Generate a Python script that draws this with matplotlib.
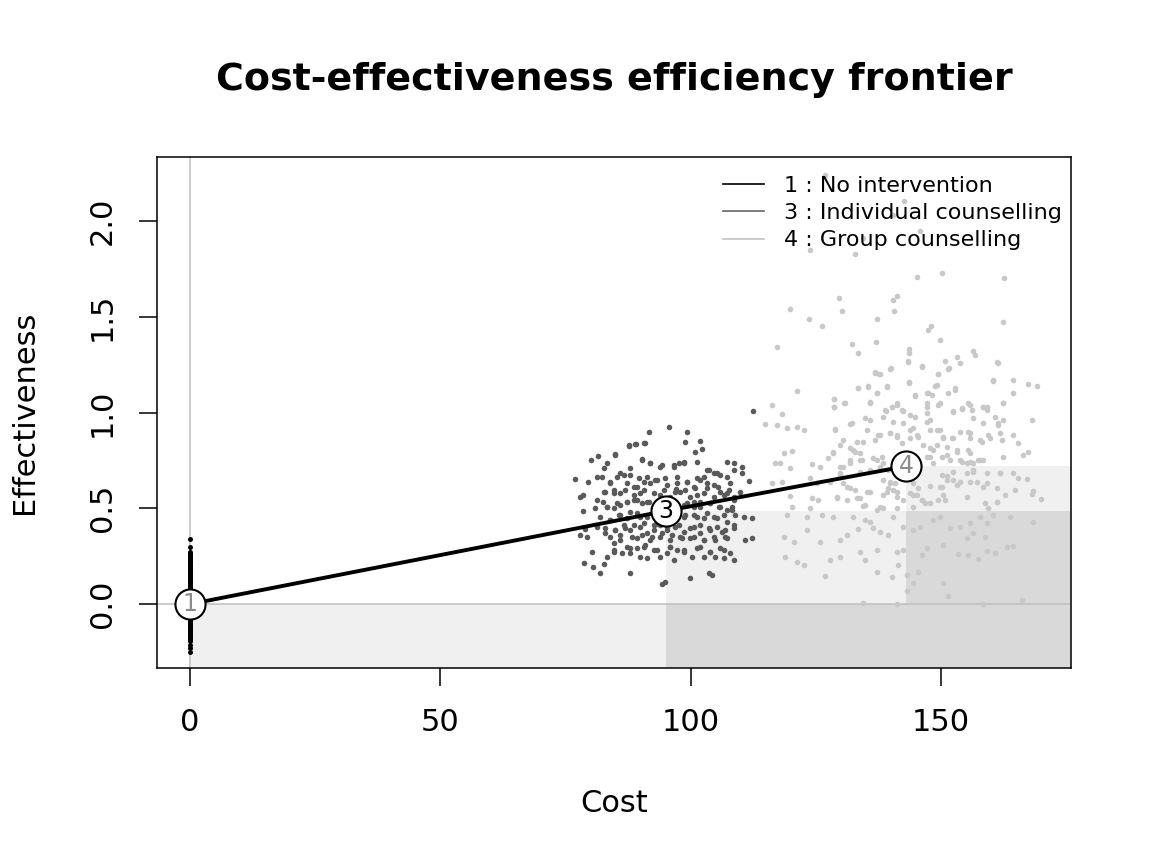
import matplotlib.pyplot as plt
from matplotlib.lines import Line2D
import numpy as np

# frontier (mean cost / mean effect of the efficient options)
labels = ['1', '3', '4']
names = ['No intervention', 'Individual counselling', 'Group counselling']
front_cost = [0.0, 95.0, 143.1]
front_eff = [0.0, 0.486, 0.72]

# simulations, option 1 (cost is always zero)
no_int_cost = 0.0
no_int_eff = [0.34, 0.30, 0.27, 0.262, 0.255, 0.247, 0.24, 0.233, 0.225, 0.218, 0.21,
              0.205, 0.197, 0.19, 0.184, 0.18, 0.172, 0.166, 0.16, 0.153, 0.148,
              0.14, 0.133, 0.127, 0.121, 0.115, 0.108, 0.101, 0.094, 0.088, 0.083,
              0.077, 0.071, 0.066, 0.062, 0.056, 0.05, 0.044, 0.041, 0.034, 0.028,
              0.023, 0.019, 0.012, 0.006, -0.003, -0.008, -0.012, -0.017, -0.024,
              -0.03, -0.036, -0.041, -0.047, -0.052, -0.059, -0.066, -0.07, -0.073,
              -0.081, -0.088, -0.092, -0.097, -0.104, -0.11, -0.114, -0.118, -0.125,
              -0.131, -0.137, -0.142, -0.149, -0.155, -0.16, -0.163, -0.172, -0.18,
              -0.187, -0.195, -0.212, -0.23, -0.25]

# simulations, option 3
ind_cost = [95.6, 91.6, 99.2, 87.6, 88.9, 90.9, 98.9, 101.9, 100.9, 102.2, 80.1, 81.6,
            84.9, 76.9, 79.5, 107.2, 108.6, 110.2, 111.6, 110.2, 107.9, 77.9, 78.6,
            78.6, 80.9, 82.5, 78.9, 77.9, 79.3, 80.3, 78.7, 80.6, 82.6, 81.9, 83.3,
            87.9, 94.2, 94.9, 99.9, 103.6, 104.2, 104.9, 106.6, 108.6, 110.6, 112.2,
            112.2, 110.9, 89.9, 91.2, 84.6, 86.2, 95.2, 98.6, 100.2, 112.4,
            90.2, 91.9, 93.9, 96.6, 97.6, 98.6, 103.6, 104.6, 105.9, 102.6, 86.6,
            87.9, 82.6, 81.3, 83.9, 85.2,
            87.2, 89.2, 90.6, 91.9, 93.2, 95.2, 97.2, 99.2, 100.6, 101.9, 103.2,
            104.6, 105.9, 107.2, 108.6, 109.9, 84.6, 85.9, 82.6, 81.3, 88.6, 89.9,
            93.9, 95.9, 97.9, 99.9, 101.2,
            83.3, 84.6, 85.9, 87.2, 88.6, 90.2, 91.6, 99.2, 100.6, 101.9, 103.9,
            105.6, 107.2, 108.2, 81.9, 83.9, 85.6, 87.2, 89.2, 91.2, 93.2, 96.6,
            98.6, 100.6, 102.6, 104.6, 106.6, 108.9,
            81.3, 82.9, 84.9, 86.6, 87.9, 89.9, 91.2, 92.6, 93.9, 95.2, 96.9, 98.6,
            100.6, 101.9, 103.6, 105.2, 106.9, 108.6, 83.9, 85.9, 89.2, 91.9, 93.9,
            95.9, 97.9, 99.9, 102.6, 104.6, 107.2,
            87.2, 89.2, 90.9, 92.6, 95.9, 97.2, 101.9, 103.9, 105.9, 84.6, 87.9,
            93.9, 96.6, 102.6, 107.9,
            92.5, 97.5, 94.0, 96.5, 93.0, 97.0,
            87.6, 89.1, 90.7, 84.9, 83.3, 82.3, 82.9, 83.9,
            90.2, 91.9, 94.2, 96.6, 98.6, 101.2, 103.2, 105.2, 107.2, 108.6,
            85.9, 87.9, 89.6, 91.2, 92.9, 94.9, 97.2, 99.2, 101.2, 103.2, 105.5, 107.6,
            84.6, 86.9, 88.6, 90.6, 92.6, 94.6, 96.9, 98.9, 100.9, 102.6, 104.6,
            106.6, 108.6,
            83.3, 85.2, 87.2, 89.2, 91.2, 98.6, 100.6, 101.9, 103.9, 105.9, 108.2,
            83.9, 85.9, 87.9, 89.9, 98.9, 101.2, 103.2, 105.2, 107.2,
            82.9, 84.9, 86.9, 88.6, 90.6, 92.6, 95.2, 97.6, 99.9, 101.9, 103.9,
            106.2, 108.6,
            85.9, 88.2, 90.2, 92.2, 94.2, 96.2, 98.2, 100.6, 102.6, 104.9, 106.9,
            84.6, 87.9, 90.6, 93.2, 95.9, 98.6, 101.2, 103.9, 106.6]
ind_eff = [0.926, 0.90, 0.90, 0.827, 0.834, 0.839, 0.848, 0.853, 0.796, 0.808, 0.752,
           0.773, 0.782, 0.651, 0.639, 0.743, 0.738, 0.717, 0.643, 0.683, 0.630, 0.561,
           0.569, 0.488, 0.50, 0.535, 0.39, 0.361, 0.348, 0.274, 0.213, 0.195, 0.209,
           0.161, 0.244, 0.161, 0.105, 0.117, 0.134, 0.164, 0.152, 0.247, 0.239, 0.23,
           0.456, 0.448, 0.343, 0.335, 0.248, 0.239, 0.317, 0.265, 0.265, 0.274,
           0.247, 1.01,
           0.756, 0.738, 0.717, 0.726, 0.735, 0.743, 0.70, 0.683, 0.674, 0.665,
           0.674, 0.709, 0.709, 0.665, 0.639, 0.665,
           0.63, 0.613, 0.639, 0.63, 0.648, 0.622, 0.63, 0.639, 0.613, 0.648, 0.604,
           0.622, 0.587, 0.578, 0.561, 0.587, 0.596, 0.578, 0.587, 0.543, 0.57,
           0.578, 0.57, 0.561, 0.587, 0.561, 0.57,
           0.509, 0.50, 0.517, 0.535, 0.543, 0.526, 0.535, 0.526, 0.509, 0.535,
           0.526, 0.509, 0.491, 0.509, 0.456, 0.439, 0.465, 0.448, 0.474, 0.456,
           0.439, 0.439, 0.456, 0.465, 0.448, 0.456, 0.465, 0.465,
           0.404, 0.396, 0.387, 0.413, 0.387, 0.404, 0.369, 0.387, 0.413, 0.387,
           0.404, 0.378, 0.404, 0.369, 0.396, 0.404, 0.387, 0.413, 0.352, 0.361,
           0.343, 0.335, 0.352, 0.335, 0.352, 0.343, 0.335, 0.352, 0.343,
           0.30, 0.291, 0.308, 0.282, 0.30, 0.282, 0.30, 0.274, 0.291, 0.274, 0.265,
           0.248, 0.23, 0.248, 0.265,
           0.50, 0.47, 0.55, 0.52, 0.42, 0.60,
           0.83, 0.836, 0.839, 0.778, 0.735, 0.665, 0.587, 0.63,
           0.752, 0.735, 0.726, 0.717, 0.735, 0.743, 0.70, 0.682, 0.665, 0.70,
           0.682, 0.674, 0.656, 0.665, 0.648, 0.656, 0.665, 0.639, 0.656, 0.63, 0.613,
           0.596,
           0.578, 0.595, 0.613, 0.595, 0.578, 0.595, 0.587, 0.595, 0.604, 0.578,
           0.56, 0.569, 0.543,
           0.508, 0.526, 0.535, 0.543, 0.535, 0.517, 0.534, 0.508, 0.526, 0.508,
           0.491,
           0.439, 0.465, 0.482, 0.456, 0.465, 0.456, 0.474, 0.448, 0.43,
           0.369, 0.387, 0.395, 0.413, 0.421, 0.413, 0.404, 0.413, 0.395, 0.413,
           0.387, 0.378, 0.395,
           0.334, 0.352, 0.36, 0.352, 0.369, 0.36, 0.343, 0.352, 0.334, 0.334, 0.352,
           0.282, 0.291, 0.30, 0.282, 0.30, 0.282, 0.291, 0.274, 0.282]

# simulations, option 4 (outer part of the cloud)
grp_cost = [126.9, 142.7, 140.5, 145.9, 134.5, 123.9, 132.9,
            145.2, 150.2, 162.7, 129.7, 130.3, 140.5, 141.3, 140.6, 119.9, 123.6,
            126.2, 137.3, 162.4, 148.0, 147.5, 149.9, 117.2, 132.2, 133.5, 137.1,
            143.7, 143.7, 143.4, 146.3, 150.9, 153.2, 156.5, 156.9, 161.5,
            121.3, 133.5, 135.5, 137.3, 139.2, 143.7, 148.9, 149.5, 151.7, 152.9,
            136.9, 137.7, 140.0, 160.5, 164.5, 164.5, 167.5, 169.3,
            116.2, 118.2, 128.7, 128.7, 130.7, 135.9, 139.0, 140.2, 141.2, 142.5,
            144.9, 147.2, 147.3, 149.5, 152.5, 154.2, 155.9, 158.5, 159.2, 162.5,
            168.2,
            114.9, 117.2, 119.2, 121.2, 122.6, 128.9, 131.9, 135.2, 137.5, 139.9,
            141.2, 143.9, 145.2, 147.9, 149.9, 150.5, 152.5, 155.9, 155.9, 157.9,
            159.5, 161.5, 161.8, 164.5, 165.5, 167.5, 166.5,
            118.6, 120.2, 116.9, 117.9, 119.9, 124.2, 125.9, 127.5, 128.5, 129.9,
            132.5, 133.9, 133.9, 131.9, 130.5, 129.9, 137.2, 138.5, 139.5, 146.5,
            148.5, 147.2, 148.5, 151.2, 153.2, 154.2, 155.9, 156.5, 157.9, 155.2,
            156.5, 161.8, 164.5, 165.5, 167.2, 164.8, 168.2, 159.2, 161.2, 159.5,
            157.2, 153.9, 152.5, 151.2, 150.2, 150.5, 149.5,
            138.5, 139.9, 140.5, 139.2, 141.2, 142.5, 143.9, 145.2, 146.2, 146.9,
            144.5, 141.2,
            116.2, 118.2, 123.9, 125.2, 127.9, 129.9, 131.2, 132.9, 135.2, 119.9,
            124.2, 125.5, 120.2, 123.9, 129.2, 131.2, 133.2, 134.9, 137.2, 138.5,
            140.5,
            119.2, 123.2, 126.2, 128.5, 132.5, 134.9, 135.9, 118.6, 120.6, 123.2,
            125.9, 129.9, 131.2, 133.5, 136.5, 137.9, 139.5, 142.5, 144.5, 145.9,
            148.5, 149.9, 151.9, 153.9, 155.9, 157.9, 159.2, 160.5, 163.8, 168.5,
            158.9, 156.5, 155.2, 150.5, 147.2, 146.2, 142.5, 141.2, 137.2, 133.9,
            129.9, 127.9, 118.9, 121.2, 122.6, 126.9, 134.9, 137.2, 141.5, 140.2,
            143.2, 145.5, 144.5, 143.2, 150.5, 151.5, 153.5, 155.5, 157.5, 159.2,
            160.9, 163.2, 164.5,
            134.5, 141.2, 158.4, 166.2, 168.5, 170.0]
grp_eff = [2.24, 2.106, 2.03, 1.95, 1.91, 1.85, 1.83,
           1.71, 1.73, 1.70, 1.60, 1.53, 1.59, 1.61, 1.53, 1.54, 1.49, 1.45, 1.49,
           1.47, 1.45, 1.43, 1.38, 1.34, 1.36, 1.31, 1.37, 1.33, 1.31, 1.27, 1.24,
           1.27, 1.29, 1.32, 1.30, 1.26,
           1.11, 1.13, 1.14, 1.10, 1.14, 1.16, 1.14, 1.20, 1.23, 1.12, 1.21, 1.20,
           1.23, 1.17, 1.17, 1.10, 1.15, 1.14,
           1.04, 0.99, 1.07, 1.03, 1.05, 1.05, 1.01, 1.03, 1.04, 1.01, 1.09, 1.10,
           1.05, 1.04, 1.01, 1.02, 1.04, 1.03, 1.03, 1.05, 0.96,
           0.94, 0.935, 0.92, 0.926, 0.909, 0.912, 0.94, 0.909, 0.883, 0.891, 0.874,
           0.909, 0.883, 0.909, 0.909, 0.865, 0.865, 0.891, 0.865, 0.857, 0.883,
           0.935, 0.891, 0.883, 0.839, 0.796, 0.778,
           0.787, 0.801, 0.738, 0.738, 0.709, 0.731, 0.714, 0.761, 0.787, 0.83,
           0.804, 0.787, 0.752, 0.735, 0.717, 0.683, 0.752, 0.735, 0.70, 0.83,
           0.804, 0.77, 0.735, 0.778, 0.796, 0.743, 0.787, 0.735, 0.752, 0.683,
           0.691, 0.683, 0.686, 0.657, 0.651, 0.596, 0.575, 0.63, 0.535, 0.50,
           0.639, 0.639, 0.648, 0.669, 0.613, 0.57, 0.543,
           0.648, 0.63, 0.596, 0.587, 0.561, 0.543, 0.578, 0.57, 0.543, 0.526,
           0.509, 0.50,
           0.63, 0.639, 0.657, 0.63, 0.639, 0.674, 0.613, 0.596, 0.587, 0.564,
           0.552, 0.543, 0.509, 0.50, 0.552, 0.543, 0.552, 0.517, 0.491, 0.50,
           0.456,
           0.465, 0.453, 0.465, 0.453, 0.456, 0.439, 0.43, 0.352, 0.326, 0.387,
           0.326, 0.335, 0.361, 0.39, 0.396, 0.378, 0.361, 0.404, 0.387, 0.404,
           0.439, 0.456, 0.396, 0.404, 0.422, 0.456, 0.422, 0.465, 0.453, 0.43,
           0.352, 0.369, 0.343, 0.308, 0.291, 0.256, 0.282, 0.274, 0.282, 0.274,
           0.248, 0.23, 0.248, 0.222, 0.204, 0.147, 0.23, 0.169, 0.204, 0.143,
           0.152, 0.169, 0.112, 0.07, 0.112, 0.042, 0.26, 0.256, 0.234, 0.277,
           0.269, 0.296, 0.303,
           0.008, 0.0, 0.0, 0.021, 0.59, 0.55]

# simulations, option 4 (denser core of the cloud)
grp_core_cost = [136.9, 137.9, 139.9, 143.5, 146.2, 149.5, 151.5, 153.8, 160.5, 161.2,
                 133.5, 135.5, 137.2, 139.2, 143.7, 144.9, 147.5, 148.2, 149.2, 151.5,
                 152.9,
                 135.9, 130.9, 128.7, 128.7, 138.9, 140.2, 141.2, 142.2, 143.9, 144.9,
                 147.2, 147.2, 149.9, 152.5, 154.2, 155.5, 156.2, 158.5, 159.2, 162.5,
                 132.2, 134.9, 135.9, 138.5, 140.5, 142.5, 144.5, 147.2, 147.9, 149.2,
                 150.5, 152.2, 153.8, 155.5, 156.5, 158.5, 160.8, 161.5, 162.5,
                 128.9, 130.5, 133.2, 134.5, 136.9, 137.9, 139.9, 141.2, 142.2, 143.9,
                 145.5, 147.9, 149.2, 151.2, 153.2, 155.5, 158.2, 159.8, 162.2,
                 128.5, 131.9, 132.9, 134.2, 136.5, 138.2, 129.9, 131.9, 133.9, 135.9,
                 137.9,
                 147.9, 150.2, 151.9, 153.8, 155.8, 157.5, 158.5, 162.5, 150.2, 152.5,
                 155.2, 156.5, 159.2, 161.8,
                 139.9, 140.9, 139.5, 141.2, 138.5, 135.9, 133.9, 131.9, 130.5, 129.2,
                 144.5, 145.5, 147.9, 149.9, 151.2, 153.2, 155.8, 158.5, 161.2, 144.5,
                 146.2, 147.9, 150.9, 155.2, 158.8, 161.2, 162.8, 134.5, 137.9]
grp_core_eff = [1.208, 1.201, 1.225, 1.265, 1.243, 1.201, 1.225, 1.257, 1.166, 1.265,
                1.126, 1.135, 1.10, 1.135, 1.156, 1.086, 1.10, 1.091, 1.143, 1.10,
                1.126,
                1.056, 1.048, 1.069, 1.027, 1.013, 1.03, 1.048, 1.013, 0.987, 0.978,
                1.03, 0.995, 1.048, 1.004, 1.022, 1.048, 1.013, 1.03, 1.013, 1.048,
                0.943, 0.97, 0.961, 0.978, 0.952, 0.943, 0.917, 0.952, 0.961, 0.909,
                0.874, 0.865, 0.90, 0.90, 0.97, 0.943, 0.978, 0.943, 0.961,
                0.909, 0.856, 0.848, 0.848, 0.856, 0.883, 0.891, 0.883, 0.839, 0.865,
                0.874, 0.813, 0.83, 0.822, 0.804, 0.804, 0.848, 0.865, 0.856,
                0.795, 0.813, 0.795, 0.752, 0.761, 0.769, 0.717, 0.752, 0.691, 0.70,
                0.717,
                0.769, 0.769, 0.752, 0.752, 0.743, 0.752, 0.752, 0.769, 0.674, 0.691,
                0.735, 0.70, 0.682, 0.682,
                0.639, 0.63, 0.604, 0.587, 0.569, 0.587, 0.552, 0.604, 0.63, 0.561,
                0.63, 0.604, 0.616, 0.613, 0.648, 0.621, 0.639, 0.613, 0.604, 0.569,
                0.543, 0.526, 0.543, 0.561, 0.526, 0.535, 0.569, 0.512, 0.508]

line_cols = ['black', '#666666', '#c4c4c4']
pt_cols = ['black', '#5a5a5a', '#c8c8c8']
num_cols = ['#8c8c8c', 'black', '#8c8c8c']

fig = plt.figure(figsize=(11.52, 8.65), dpi=100)
ax = fig.add_axes([0.1363, 0.2277, 0.7934, 0.5908])
xlim = (-6.6, 176.0)
ylim = (-0.334, 2.334)

# dominated areas: light for each option, darker where two overlap
for c, e in zip(front_cost, front_eff):
    ax.fill_between([c, xlim[1]], ylim[0], e, color='#f0f0f0', lw=0, zorder=0)
for i in range(1, len(front_cost)):
    ax.fill_between([front_cost[i], xlim[1]], ylim[0], front_eff[i - 1],
                    color='#d9d9d9', lw=0, zorder=0)

ax.axhline(0, color='#bebebe', lw=1.1, zorder=1)
ax.axvline(0, color='#bebebe', lw=1.1, zorder=1)

ax.scatter(np.full(len(no_int_eff), no_int_cost), no_int_eff, s=13, color=pt_cols[0],
           lw=0, zorder=2)
ax.scatter(ind_cost, ind_eff, s=16, color=pt_cols[1], lw=0, zorder=2)
ax.scatter(grp_cost + grp_core_cost, grp_eff + grp_core_eff, s=16, color=pt_cols[2],
           lw=0, zorder=2)

ax.plot(front_cost, front_eff, color='black', lw=2.8, zorder=3)
ax.scatter(front_cost, front_eff, s=470, facecolor='white', edgecolor='black',
           lw=1.5, zorder=4)
for c, e, lab, col in zip(front_cost, front_eff, labels, num_cols):
    ax.text(c, e, lab, color=col, fontsize=17, ha='center', va='center', zorder=5)

ax.set_xlim(xlim)
ax.set_ylim(ylim)
ax.set_xticks([0, 50, 100, 150])
ax.set_yticks([0.0, 0.5, 1.0, 1.5, 2.0])
ax.set_yticklabels(['0.0', '0.5', '1.0', '1.5', '2.0'], rotation=90, va='center')
ax.tick_params(labelsize=22, length=13, width=1.1, pad=16)
for s in ax.spines.values():
    s.set_linewidth(1.1)

handles = [Line2D([], [], color=col, lw=1.2) for col in line_cols]
ax.legend(handles, [f'{l} : {n}' for l, n in zip(labels, names)], loc='upper right',
          bbox_to_anchor=(1.0, 0.98), frameon=False, fontsize=16, handlelength=1.85,
          handletextpad=0.9, labelspacing=0.32, borderaxespad=0, borderpad=0.4)

fig.text(0.533, 1 - 80 / 865, 'Cost-effectiveness efficiency frontier', fontsize=27.4,
         fontweight='bold', ha='center', va='center')
fig.text(0.533, 1 - 803 / 865, 'Cost', fontsize=22, ha='center', va='center')
fig.text(25 / 1152, 1 - 412 / 865, 'Effectiveness', fontsize=22, ha='center',
         va='center', rotation=90)

fig.savefig('out.png', dpi=100)
